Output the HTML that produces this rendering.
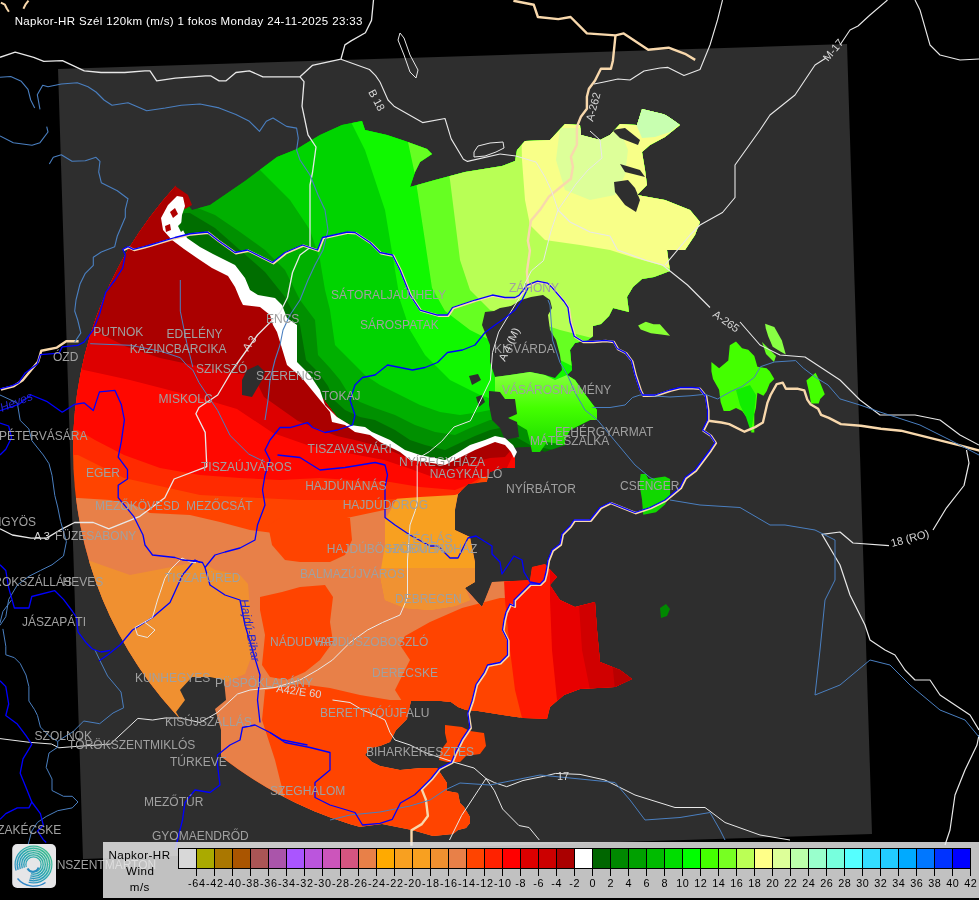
<!DOCTYPE html>
<html><head><meta charset="utf-8"><style>
html,body{margin:0;padding:0;background:#000;width:979px;height:900px;overflow:hidden}
svg{display:block}
text{font-family:"Liberation Sans",Arial,sans-serif}
</style></head><body>
<svg width="979" height="900" viewBox="0 0 979 900">
<rect width="979" height="900" fill="#000"/>
<polygon points="58,69 847,44 872,834 83,859" fill="#2e2e2e" />
<defs><clipPath id="cc"><circle cx="464" cy="450" r="391"/></clipPath><clipPath id="cr"><polygon points="177,190 175,205 172,222 180,240 198,253 215,262 232,270 240,282 243,296 258,300 272,306 278,320 285,335 290,350 292,363 305,378 318,392 328,405 338,418 352,426 370,432 388,441 405,452 425,459 445,462 463,452 475,447 495,439 505,441 512,448 515,458 515,468 503,468 490,472 487,482 468,484 458,494 455,510 455,530 470,537 475,562 475,582 465,588 482,607 492,582 530,580 532,567 545,564 557,577 550,585 560,600 575,607 595,602 597,630 600,662 620,670 632,679 615,687 580,689 564,695 550,707 547,719 523,718 503,715 478,711 466,710 458,707 451,702 441,701 411,701 409,709 407,719 396,730 390,742 380,746 370,748 365,755 372,762 380,766 400,770 421,768 437,768 441,774 447,783 447,791 458,793 460,803 464,807 470,817 470,823 466,828 458,830 453,834 433,836 412,830 402,828 382,824 351,828 341,824 321,818 300,812 280,804 200,900 -50,900 -50,100 150,100"/></clipPath><clipPath id="co2"><polygon points="398,497 430,490 455,492 458,494 455,510 455,530 470,537 475,562 475,582 465,588 470,600 455,606 430,610 405,608 385,600 380,575 385,545 385,520"/></clipPath><clipPath id="cg"><polygon points="177,190 175,205 172,222 180,240 198,253 215,262 232,270 240,282 243,296 258,300 272,306 278,320 285,335 290,350 292,363 305,378 318,392 328,405 338,418 352,426 370,432 388,441 405,452 425,459 445,462 463,452 475,447 495,439 505,441 512,448 530,447 545,452 565,445 565,440 570,430 580,425 590,420 597,420 597,410 587,397 575,380 567,375 572,370 570,350 575,343 588,340 593,336 593,326 601,324 609,316 613,308 629,312 627,297 633,287 642,279 654,277 670,271 667,250 685,250 695,235 700,222 690,210 665,200 637,195 647,185 645,170 642,152 650,145 665,137 680,125 667,115 642,109 637,125 620,124 610,135 600,140 581,135 580,125 565,124 550,140 525,141 517,150 515,161 502,166 465,172 435,180 410,187 415,172 420,162 432,154 427,149 405,141 387,135 365,130 362,121 342,125 320,135 305,144 297,149 277,157 245,181 210,205 192,210"/></clipPath></defs>
<g clip-path="url(#cc)">
<g clip-path="url(#cr)">
<polygon points="177,190 175,205 172,222 180,240 198,253 215,262 232,270 240,282 243,296 258,300 272,306 278,320 285,335 290,350 292,363 305,378 318,392 328,405 338,418 352,426 370,432 388,441 405,452 425,459 445,462 463,452 475,447 495,439 505,441 512,448 515,458 515,468 503,468 490,472 487,482 468,484 458,494 455,510 455,530 470,537 475,562 475,582 465,588 482,607 492,582 530,580 532,567 545,564 557,577 550,585 560,600 575,607 595,602 597,630 600,662 620,670 632,679 615,687 580,689 564,695 550,707 547,719 523,718 503,715 478,711 466,710 458,707 451,702 441,701 411,701 409,709 407,719 396,730 390,742 380,746 370,748 365,755 372,762 380,766 400,770 421,768 437,768 441,774 447,783 447,791 458,793 460,803 464,807 470,817 470,823 466,828 458,830 453,834 433,836 412,830 402,828 382,824 351,828 341,824 321,818 300,812 280,804 200,900 -50,900 -50,100 150,100" fill="#ff4400" />
<polygon points="-50,498 78,498 110,500 134,505 150,513 190,515 220,522 250,530 304,537 342,519 389,509 400,495 430,490 460,490 520,600 520,900 -50,900" fill="#e88048" />
<polygon points="-50,561 90,561 130,575 177,566 201,561 215,570 240,575 248,584 250,608 252,655 245,674 224,683 215,702 200,740 -50,740" fill="#f09030" />
<polygon points="398,497 430,490 455,492 458,494 455,510 455,530 470,537 475,562 475,582 465,588 470,600 455,606 430,610 405,608 385,600 380,575 385,545 385,520" fill="#f8a020" />
<polygon points="370,568 480,568 480,640 370,640" fill="#f09232" clip-path="url(#co2)"/>
<polygon points="280,518 350,518 352,540 345,555 330,562 300,562 285,560 272,545 268,525" fill="#ff4400" />
<polygon points="260,597 282,592 300,587 325,585 333,597 330,622 333,642 320,660 305,672 287,680 270,677 262,665 265,635 260,610" fill="#ff4400" />
<polygon points="265,690 300,684 330,688 360,695 390,700 440,700 480,690 520,720 480,860 420,860 300,860 285,800 275,760 262,720" fill="#ff4400" />
<polygon points="405,636 430,622 462,608 500,598 640,598 640,730 420,730 395,690 410,660 400,645" fill="#ff4400" />
<polygon points="503,560 700,560 700,730 525,730 515,690 510,650 505,600" fill="#ff1800" />
<polygon points="550,560 700,560 700,730 560,730 556,690 552,650 550,600" fill="#e80000" />
<polygon points="578,590 700,590 700,730 600,730 590,690 582,650" fill="#d00000" />
<polygon points="612,600 700,600 700,730 620,730 615,690 612,660" fill="#b80000" />
<polygon points="177,190 175,205 172,222 180,240 198,253 215,262 232,270 240,282 243,296 258,300 272,306 278,320 285,335 290,350 292,363 305,378 318,392 328,405 338,418 352,426 370,432 388,441 405,452 425,459 445,462 463,452 475,447 495,439 505,441 512,448 520,440 470,490 455,495 420,497 380,500 300,500 200,495 124,478 78,455 -50,455 -50,100 150,100" fill="#ff2a00" />
<polygon points="177,190 175,205 172,222 180,240 198,253 215,262 232,270 240,282 243,296 258,300 272,306 278,320 285,335 290,350 292,363 305,378 318,392 328,405 338,418 352,426 370,432 388,441 405,452 425,459 445,462 463,452 475,447 495,439 505,441 512,448 520,440 515,468 503,468 490,472 470,484 455,490 420,487 390,482 350,480 320,478 280,480 240,478 200,475 160,468 124,455 95,440 78,430 -50,430 -50,100 150,100" fill="#ff0800" />
<polygon points="177,190 175,205 172,222 180,240 198,253 215,262 232,270 240,282 243,296 258,300 272,306 278,320 285,335 290,350 292,363 305,378 318,392 328,405 338,418 352,426 370,432 388,441 405,452 425,459 445,462 463,452 475,447 495,439 505,441 512,448 520,440 505,472 490,476 460,480 430,476 408,468 384,460 347,453 310,446 273,433 237,409 200,398 130,380 75,368 40,365 40,150 150,100" fill="#dd0000" />
<polygon points="177,190 175,205 172,222 180,240 198,253 215,262 232,270 240,282 243,296 258,300 272,306 278,320 285,335 290,350 292,363 305,378 318,392 328,405 338,418 352,426 370,432 388,441 405,452 425,459 445,462 463,452 475,447 495,439 505,441 512,448 520,440 505,457 490,458 470,463 450,470 430,466 408,458 384,448 359,441 337,436 318,429 298,421 281,409 264,397 258,385 250,375 225,372 193,365 160,358 127,347 93,330 40,330 100,150 150,100" fill="#aa0000" />
<polygon points="247,370 258,365 265,372 262,380 252,397 242,395 242,380" fill="#2e2e2e" />
</g>
<polygon points="445,725 462,727 470,731 484,733 486,746 480,754 466,756 460,762 447,762 439,760 441,750 447,742 445,733" fill="#ff4400" />
<g clip-path="url(#cg)">
<polygon points="177,190 175,205 172,222 180,240 198,253 215,262 232,270 240,282 243,296 258,300 272,306 278,320 285,335 290,350 292,363 305,378 318,392 328,405 338,418 352,426 370,432 388,441 405,452 425,459 445,462 463,452 475,447 495,439 505,441 512,448 530,447 545,452 565,445 565,440 570,430 580,425 590,420 597,420 597,410 587,397 575,380 567,375 572,370 570,350 575,343 588,340 593,336 593,326 601,324 609,316 613,308 629,312 627,297 633,287 642,279 654,277 670,271 667,250 685,250 695,235 700,222 690,210 665,200 637,195 647,185 645,170 642,152 650,145 665,137 680,125 667,115 642,109 637,125 620,124 610,135 600,140 581,135 580,125 565,124 550,140 525,141 517,150 515,161 502,166 465,172 435,180 410,187 415,172 420,162 432,154 427,149 405,141 387,135 365,130 362,121 342,125 320,135 305,144 297,149 277,157 245,181 210,205 192,210" fill="#006e00" />
<polygon points="120,213 190,213 215,228 240,250 265,272 285,297 300,325 306,360 318,372 328,386 334,400 345,410 360,417 375,420 395,430 410,440 425,445 445,450 462,442 475,436 490,430 500,428 530,445 600,460 800,500 800,-50 100,-50" fill="#009000" />
<polygon points="120,205 190,205 215,215 240,232 265,250 285,270 300,300 315,320 318,355 330,368 340,380 348,393 360,402 375,408 395,415 415,425 435,432 455,435 470,428 490,420 510,420 600,440 800,500 800,-50 100,-50" fill="#00b000" />
<polygon points="230,80 250,160 270,180 290,200 310,230 320,260 325,290 330,310 335,345 350,360 365,375 380,385 400,395 420,405 440,412 460,415 480,412 500,408 600,420 800,500 800,-50 100,-50" fill="#00d400" />
<polygon points="340,80 350,120 365,150 375,180 385,210 390,240 395,270 400,300 410,330 425,355 450,380 480,395 510,405 600,400 800,500 800,-50 100,-50" fill="#10f800" />
<polygon points="400,80 405,128 415,175 420,208 425,241 432,288 445,311 470,330 500,345 520,340 600,380 800,500 800,-50 100,-50" fill="#66ff22" />
<polygon points="440,80 440,120 445,150 450,180 455,220 460,260 470,290 490,310 530,320 560,330 600,340 700,340 800,500 800,-50 100,-50" fill="#b8ff55" />
<polygon points="520,80 522,160 525,200 530,225 545,240 580,245 610,250 635,258 660,265 690,275 720,260 800,500 800,-50 100,-50" fill="#f8ff88" />
<polygon points="560,128 600,128 622,135 628,150 625,175 615,195 590,200 565,190 556,160" fill="#ddff99" />
<polygon points="636,124 642,108 667,114 680,124 670,132 655,137 642,138" fill="#c8ffb0" />
<polygon points="612,130 625,128 640,140 638,145 620,138" fill="#2e2e2e" />
<polygon points="620,164 640,170 645,177 625,172" fill="#2e2e2e" />
<polygon points="614,182 628,180 635,188 640,200 636,212 625,205 615,192" fill="#2e2e2e" />
<polygon points="485,312 494,311 500,308 511,306 521,300 531,297 543,295 550,300 552,308 548,315 550,330 556,340 560,355 562,370 555,378 545,375 530,372 510,375 495,377 490,362 490,345 482,325" fill="#2e2e2e" />
</g>
<defs><linearGradient id="vg" x1="0" y1="0" x2="0" y2="1"><stop offset="0" stop-color="#88ff40"/><stop offset="0.45" stop-color="#44ff00"/><stop offset="1" stop-color="#18d800"/></linearGradient></defs>
<polygon points="495,377 510,375 530,372 545,375 555,380 567,375 575,380 587,397 597,410 597,420 590,420 580,425 570,430 565,440 565,445 547,442 540,452 532,452 530,442 527,430 510,420 495,400" fill="url(#vg)" />
<polygon points="489,391 500,392 505,399 515,399 517,414 508,418 517,422 519,437 505,440 500,428 492,420 489,405" fill="#2e2e2e" />
<polygon points="469,376 478,374 481,380 472,385" fill="#2e2e2e" />
<polygon points="476,397 482,395 485,402 479,407" fill="#2e2e2e" />
<polygon points="175,186 188,195 192,205 185,209 176,203" fill="#b00000" />
<polygon points="183,197 185,206 182,215 181,226 187,238 200,247 213,254 235,265 245,278 250,290 258,295 275,298 282,305 287,318 297,325 297,362 310,375 320,390 325,405 337,417 350,425 365,427 372,432 390,440 405,450 420,455 445,460 462,450 470,445 485,440 495,436 505,438 513,445 517,452 514,458 511,452 505,445 495,442 475,450 465,455 445,465 425,462 410,460 400,452 380,442 370,435 355,432 345,425 332,422 330,412 320,400 302,378 287,365 277,332 273,325 270,315 260,307 243,305 240,299 235,287 228,276 212,268 197,258 184,249 172,240 163,230 161,218 168,205 177,196" fill="#fff" />
<polygon points="170,212 175,208 178,214 173,218" fill="#b00000" />
<polygon points="165,226 170,224 171,230 166,232" fill="#b00000" />
<polygon points="178,226 182,222 186,228 181,232" fill="#007000" />
</g>
<polygon points="180,690 192,677 210,677 224,680 226,700 215,709 221,730 221,757 205,752 192,738 182,722 176,712 185,700" fill="#2e2e2e" />
<polygon points="711.4,362.1 719.1,368.2 728.3,360.6 729.8,345.2 736,341.4 742.1,348.3 748.2,349.8 754.3,356 757.4,366.7 766.6,368.2 769.7,371.3 774.3,378.9 769.7,383.5 766.6,391.2 763.5,395.8 757.4,392.7 755.9,408.1 754.3,414.2 754.3,432.6 751.3,432.6 750.5,417.2 746.7,417.2 742.1,411.1 736,408.1 729.8,411.1 723.7,411.1 720.6,401.9 719.1,389.7 713,378.9 711.4,371.3" fill="#44ff00" />
<polygon points="736,390 750,385 756,395 754,414 751,432 746,417 740,405" fill="#11ee00" />
<polygon points="765.1,323.8 774.3,326.9 781.9,340.6 785.8,354.4 780.4,351.4 772.7,346.8 768.1,336 765.8,328.4" fill="#88ff44" />
<polygon points="762,342 768,348 776,356 774,362 766,354" fill="#66ff22" />
<polygon points="806.4,380.5 815.6,372.8 818.7,378.9 824.8,394.3 820.2,398.9 818.7,403.5 811,403.5 809.5,394.3" fill="#44ff00" />
<polygon points="638.1,325.6 645.8,321.7 653.5,324.3 659.9,324.3 670.1,335.8 661.2,334.5 650.9,333.2 640.7,329.4" fill="#88ff33" />
<polygon points="640.7,473.9 645.8,473.9 648.4,479 665,476.5 670.1,479 670.1,494.4 665,504.6 656,512.3 643.2,514.8 642,499.5 639.4,484.1" fill="#11d800" />
<polygon points="660,608 666,604 670,609 667,616 661,618" fill="#008800" />
<polyline points="0,2 4,4 6,8 8,11" fill="none" stroke="#f8d8ac" stroke-width="2.0" stroke-linejoin="round" transform="translate(0.9 0.7)"/>
<polyline points="27.6,0 24.5,4 22.5,8" fill="none" stroke="#f8d8ac" stroke-width="2.0" stroke-linejoin="round" transform="translate(0.9 0.7)"/>
<polyline points="512.5,0 532.9,4.1 537,16.3 557.4,18.4 569.7,16.3 586,32.7 614.6,34.7 622.8,32.7 647.3,49 667.7,47 684.1,53.1 694.3,59.2" fill="none" stroke="#f8d8ac" stroke-width="2.4" stroke-linejoin="round" transform="translate(0.9 0.7)"/>
<polyline points="614.6,34.7 612,60 610,68 600,68 598,72 594,80 588,88 586,96 586,108 580,116 576,126 576,144 570,156 572,166 570,178 560,186 548,196 540,208 530,220 527,240 529,250 526,271 527.2,285.2" fill="none" stroke="#f8d8ac" stroke-width="2.4" stroke-linejoin="round" transform="translate(0.9 0.7)"/>
<polyline points="0,388.8 12.4,385.7 21.8,379.5 37.3,360.8 40.4,350 56,346.9 65.3,340.6 77.7,340.6" fill="none" stroke="#f8d8ac" stroke-width="2.4" stroke-linejoin="round" transform="translate(0.9 0.7)"/>
<polyline points="122.7,249.3 128,246.7 133.3,249.3 144,246.7 150,245 175,237.5 190,233.75 207.5,232 217.5,240 235,252.5 247.5,250 272.5,262.5 285,252.5 302.5,245 317.5,250 322.5,237.5 347.5,232 355,232.5 370,242.5 380,252.5 392.5,255 400,270 410,295 420,310 437.5,315 447.5,315 452.5,307.5 475,300 492.5,295 505,297.5 515,297.5 519,295.4 527.2,285.2 537.4,281.1 547.6,283.1 551.7,287.2" fill="none" stroke="#f8d8ac" stroke-width="2.4" stroke-linejoin="round" transform="translate(0.9 0.7)"/>
<polyline points="551.7,287.2 564,301.5 568,307.6 570,322 574.2,336.2 582.4,341.3 592.6,341.3 604.8,340.3 613,341.3 617.1,348.5 625.3,352.6 631.4,360.7 635,375 640,390 642.5,395 655,395 670,390 680,387.5 692.5,387.5 699,388 705.3,395.8 707.5,410 707.5,420" fill="none" stroke="#f8d8ac" stroke-width="2.4" stroke-linejoin="round" transform="translate(0.9 0.7)"/>
<polyline points="707.5,420 720.6,421.8 728.3,423.4 743.6,431 754.3,426.4 762,421.8 766.6,401.9 769.7,394.3 775.8,383.5 781.9,382 785,388.1 797.2,388.1 803.4,389.7 806.4,398.9 809.5,403.5 817.2,408.1 820.2,414.2 827.9,417.2 840,423.4 860,425 880,428 900,430 920,435 940,440 960,445 979,450" fill="none" stroke="#f8d8ac" stroke-width="2.4" stroke-linejoin="round" transform="translate(0.9 0.7)"/>
<polyline points="707.5,420 702.5,430 710,435 715,442.5 710,450 702.5,460 695,470 685,477.5 680,487.5 665,500 650,507.5 635,512.5 610,502.5 600,507.5 590,520 574,520 570,526 562,534 560,544 552,550 548,560 546,572 544,580 540,584 530,584 522,592 514,600 514,606 510,604 506,612 504,620 502.5,630 507.5,640 507.5,655 500,662.5 487.5,665 484.2,672.3 476,684.5 472,700.9 467.8,713.1 469.9,727.4 461.7,739.7 455.6,751.9 451.5,762.1 439.2,768.3 431.1,778.5 420.9,788.7 425,798.9 427,815.3 420.9,823.4 410.6,829.6 410.6,845" fill="none" stroke="#f8d8ac" stroke-width="2.4" stroke-linejoin="round" transform="translate(0.9 0.7)"/>
<polyline points="0,57.3 15.2,52.2 33.7,57.3 43.8,61.3 62.4,60.7 84.3,70.8 101.1,72.5 124.7,72.5 144.9,70.8 150,70.8 156.7,80.9 175.3,78.2 205.6,75.8 210.6,75.8 219.1,80.9 225.8,80.9 235.9,72.5 249.4,70.8 262.9,76.8 300,76.8 312.3,65.4 340.9,59.2 344.9,44.9 351.1,40.9 365.4,32.7 371.5,20.4 373.5,0" fill="none" stroke="#e8e8e8" stroke-width="1.3" stroke-linejoin="round"/>
<polyline points="300,76.8 304,81.7 302,106.2 308,134.8 316,147 312.5,172.5 310,185 310,247.5 300,255 292.5,272.5 287.5,297.5 280,312.5 257.5,335 245,352.5 232.5,370 217.7,395 199,407.5 195.9,413.7 205.2,432.4 206.8,466.6 174.1,479 164.8,497.7 139.9,516.3 108.8,528.8 93.3,522.5 74.6,522.5 62.2,528.8 46.6,538.1 31.1,538.1 12.4,535 0,528.8" fill="none" stroke="#e8e8e8" stroke-width="1.3" stroke-linejoin="round"/>
<polyline points="340.9,59.2 369.5,69.5 375.6,75.6 380,82 388,100 394,106.2 422.6,122.6 445,118.5 451.2,138.9 463.4,159.3 467.5,161.4 500,154" fill="none" stroke="#e8e8e8" stroke-width="1.1" stroke-linejoin="round"/>
<polyline points="558,210 570,222 590,232 610,236 617.5,250 645,260 662.5,265 687.5,285 710,307.5" fill="none" stroke="#e8e8e8" stroke-width="1.1" stroke-linejoin="round"/>
<polyline points="740,322 760,345 780,355 805,357 840,380 860,400 880,415 915,415 940,420 960,435 979,445" fill="none" stroke="#e8e8e8" stroke-width="1.1" stroke-linejoin="round"/>
<polyline points="398,40 400,33 404,38 410,55 418,70 416,78 410,72 404,55 398,40" fill="none" stroke="#e8e8e8" stroke-width="1.0" stroke-linejoin="round"/>
<polyline points="474,152 478,146 490,143 503,142 504,148 496,152 485,156 474,157 474,152" fill="none" stroke="#e8e8e8" stroke-width="1.0" stroke-linejoin="round"/>
<polyline points="887.5,0 870,15 858,26 850,30 840,45" fill="none" stroke="#e8e8e8" stroke-width="1.1" stroke-linejoin="round"/>
<polyline points="826,58 815,65 795,95 770,115 760,130 735,165 735,197.5 722.5,212.5 700,225 690,235 665,265" fill="none" stroke="#e8e8e8" stroke-width="1.1" stroke-linejoin="round"/>
<polyline points="915,0 920,10 930,45 940,55 960,60 979,59" fill="none" stroke="#e8e8e8" stroke-width="1.1" stroke-linejoin="round"/>
<polyline points="722.5,0 717.5,20 710,45 700,69.5 684,75.6 668,67.4 660,68 644,71 630,80 618,79 604,82 594,84" fill="none" stroke="#e8e8e8" stroke-width="1.1" stroke-linejoin="round"/>
<polyline points="590,131 600,140 602,158 588,170 576,184 558,210" fill="none" stroke="#e8e8e8" stroke-width="1.0" stroke-linejoin="round"/>
<polyline points="500,154 516,156 536,162 545,177 552,192 558,210 553,225 550.7,232 543.5,260.6 531.3,270.9 525.2,283 521,295.4 510.9,311.7 498.6,332.1 492.5,352.6 490.4,380 478.5,404.5 470.3,420.9 454,427 441.7,441.3 429.5,451.5 419.2,457.6 417.2,465.8 417.2,502.6 415.2,510.7 410,525 407.5,560 407.5,597.5 400,615 382.5,622.5 367.5,630 350,642.5 332.5,660 317.5,670 300,680 275,687.5 250,690 237.5,694 217.5,712.5 200,722.5 180,718 165,718 152.6,720 137.9,718.4 110.3,744.1 69.9,746.9 58.8,747.8 51.5,744 29.4,742.3 0,738.6" fill="none" stroke="#e8e8e8" stroke-width="1.0" stroke-linejoin="round"/>
<polyline points="332.5,700 350,702.5 362.5,710 375,715 385,720 390,732.5 395,740 410,745 425,752.5 440,757.5 455,762.5 474,768 486,778.5 494.4,782.6 506.7,786.7 523,780.5 543.4,776.4 555.7,773.4 580,774.4 605,780 635,795 675,807.5 705,807.5 725,822.5 760,835 790,840" fill="none" stroke="#e8e8e8" stroke-width="1.0" stroke-linejoin="round"/>
<polyline points="486,778.5 478,790.7 469.9,803 461.7,815.3 449.5,840" fill="none" stroke="#e8e8e8" stroke-width="1.0" stroke-linejoin="round"/>
<polyline points="486,778.5 494.4,790.7 502.6,809 518.9,825.5 529.1,827.5 539.3,840" fill="none" stroke="#e8e8e8" stroke-width="1.0" stroke-linejoin="round"/>
<polyline points="966.5,450 969,463 964,485.5 946.5,507.8 933,530" fill="none" stroke="#e8e8e8" stroke-width="1.2" stroke-linejoin="round"/>
<polyline points="889,545.6 853,543 840,532 822,534.4 830,548 840,565 850,595 865,625 870,640 885,650 895,655 905,670 915,680 930,680 940,695 955,705 970,715 979,730" fill="none" stroke="#e8e8e8" stroke-width="1.2" stroke-linejoin="round"/>
<polyline points="979,735 977,745 965,770 955,795 950,830 945,845" fill="none" stroke="#e8e8e8" stroke-width="1.2" stroke-linejoin="round"/>
<polyline points="0,77.3 10.7,76.5 21.3,81.3 28,89.3 30.7,100 34.7,108" fill="none" stroke="#4a7fc0" stroke-width="1.1" stroke-linejoin="round"/>
<polyline points="40,109.3 37.3,94.7 42.7,85.3 48,86.7 61.3,84 77.3,82.7 88,86.7 96,92 104,100 112,105.3 128,102.7 146.7,110.7 165.3,108 181.3,105.3 200,104 219.1,107.9 235.9,114.6 249.4,121.3 259.5,131.4 266.3,121.3 273,118 286.5,126.4 296.6,128.1 298.3,138.2 296.6,150 300,160 310,175 318,195 325,210 328,230 323,250 315,265 308,280 300,300 290,315 283,330 280,345 275,360 270,380 268,400 265,420" fill="none" stroke="#4a7fc0" stroke-width="1.1" stroke-linejoin="round"/>
<polyline points="0,136 13.3,142.7 32,145.3 40,142.7 48,132 46.7,126.7" fill="none" stroke="#4a7fc0" stroke-width="1.1" stroke-linejoin="round"/>
<polyline points="49.3,164 53.3,157.3 61.3,154.7 72,161.3 85.3,160.8 96,157.3 100,161.3 98.7,172 101.3,182.7 117.3,190.7 128,198.7 125.3,209.3 125.3,217.3 117.3,236 114.7,246.7 101.3,252 93.3,257.3 93.3,265.3 85.3,273.3 80,284 76,300 74.7,311 77.7,320 80.8,332.9 74.6,342.2" fill="none" stroke="#4a7fc0" stroke-width="1.1" stroke-linejoin="round"/>
<polyline points="90.2,343.7 130.6,345.3 161.7,351.5 180.3,357.7 186.6,365 192.8,370 199,382.6 217.7,410.6 230.1,435.5 248.8,454.1 265,462" fill="none" stroke="#4a7fc0" stroke-width="1.0" stroke-linejoin="round"/>
<polyline points="180.3,280 180.3,311.1 186.6,342.2 192.8,367.1" fill="none" stroke="#4a7fc0" stroke-width="1.0" stroke-linejoin="round"/>
<polyline points="0,395 17.3,403 20.2,420.4 28.9,429 31.8,440.6 43.3,455 49,463.7 52,475.3 54.8,495.5 57.7,507 60.6,521.5 66.4,541.7 63.5,556 52,564.8 40.4,570.5 28.9,576.3 17.3,585 8.7,599.4 5.8,616.7 0,625.4" fill="none" stroke="#4a7fc0" stroke-width="1.0" stroke-linejoin="round"/>
<polyline points="11.5,600 2.9,611.5 0,623" fill="none" stroke="#4a7fc0" stroke-width="1.0" stroke-linejoin="round"/>
<polyline points="2.9,628.9 5.8,646.2 5.8,654.8 14.4,657.7 20.2,663.5 26,675 28.9,686.6 28.9,701 34.6,709.7 37.5,715.5 40.4,727 49,735.7 57.7,741.5 57.7,747.2 49,753 46.2,767.4 52,779 52,790.5 63.5,796.3 72.2,796.3 78,802 72.2,807.9 57.7,810.7 46.2,816.5 37.5,822.3 31.8,831 28,845" fill="none" stroke="#4a7fc0" stroke-width="1.0" stroke-linejoin="round"/>
<polyline points="57.7,741.5 60,739.7 73,731.7 83.7,721 99.7,723.7 113,713 123.6,707.8 121,692 107.6,676 99.7,660 95,650" fill="none" stroke="#4a7fc0" stroke-width="1.0" stroke-linejoin="round"/>
<polyline points="200,562.5 195,560 182.5,575 170,602.5 152.5,617.5 132.5,630 120,645 107.5,655 99,661" fill="none" stroke="#0000ff" stroke-width="1.3" stroke-linejoin="round"/>
<polyline points="196,562.6 191.3,562.6 182,558 178.9,561 171.1,568.9 164.9,578.2 160.2,592.2 157.5,600 152.5,617.5 135,627.5 137.5,635 147.5,637.5 155,630 145,622.5" fill="none" stroke="#e8e8e8" stroke-width="1.0" stroke-linejoin="round"/>
<polyline points="330,820 350,815 380,812 410,806 430,800 445,790 460,783 490,785 540,775 615,782.5 630,800 645,820 680,817.5 710,812.5 720,830 725,840" fill="none" stroke="#4a7fc0" stroke-width="1.0" stroke-linejoin="round"/>
<polyline points="670,500 700,505 740,507.5 770,525 785,525 815,530 835,540 835,580 825,600 820,650 815,695 840,685 870,660 890,665 910,685 940,710 965,720 979,737" fill="none" stroke="#4a7fc0" stroke-width="1.0" stroke-linejoin="round"/>
<polyline points="548,300 550,305 552.5,340 560,362.5 567.5,375 575,392.5 585,410 597.5,420 610,435 622.5,450 635,465 650,477.5 655,480" fill="none" stroke="#4a7fc0" stroke-width="1.0" stroke-linejoin="round"/>
<polyline points="592.5,407.5 610,407.5 625,405 632.5,397.5 640,395" fill="none" stroke="#4a7fc0" stroke-width="1.0" stroke-linejoin="round"/>
<polyline points="640,395 655,396 670,397 690,395.8 705,394.3 717.6,398.9 731.4,391.2 742,386.6 754.3,377.4 760.5,366.7 774.3,362 795.7,360.6 803.4,368.2 815.6,377.4 828,385 840,398.9 860,405 880,412 920,425 950,440 979,455" fill="none" stroke="#4a7fc0" stroke-width="1.0" stroke-linejoin="round"/>
<polyline points="0,388.8 12.4,385.7 18.7,382.6 24.9,373.3 37.3,364 40.4,354.6 59.1,353.1 62.2,346.9 77.7,345.3 84,342.2 93.3,329.8 99.5,314.2 105.7,292.4 115,280 122.7,268 125.3,254.7 122.7,249.3 128,246.7 133.3,249.3 144,246.7 150,245 175,237.5 190,233.75 207.5,232 217.5,240 235,252.5 247.5,250 272.5,262.5 285,252.5 302.5,245 317.5,250 322.5,237.5 347.5,232 355,232.5 370,242.5 380,252.5 392.5,255 400,270 410,295 420,310 437.5,315 447.5,315 452.5,307.5 475,300 492.5,295 505,297.5 515,297.5 519,295.4 527.2,285.2 537.4,281.1 547.6,283.1 551.7,287.2" fill="none" stroke="#0000ff" stroke-width="1.3" stroke-linejoin="round"/>
<polyline points="551.7,287.2 564,301.5 568,307.6 570,322 574.2,336.2 582.4,341.3 592.6,341.3 604.8,340.3 613,341.3 617.1,348.5 625.3,352.6 631.4,360.7 635,375 640,390 642.5,395 655,395 670,390 680,387.5 692.5,387.5 699,388 705.3,395.8 707.5,410 707.5,420 707.5,420 702.5,430 710,435 715,442.5 710,450 702.5,460 695,470 685,477.5 680,487.5 665,500 650,507.5 635,512.5 610,502.5 600,507.5 590,520 574,520 570,526 562,534 560,544 552,550 548,560 546,572 544,580 540,584 530,584 522,592 514,600 514,606 510,604 506,612 504,620 502.5,630 507.5,640 507.5,655 500,662.5 487.5,665 484.2,672.3 476,684.5 472,700.9 467.8,713.1 469.9,727.4 461.7,739.7 455.6,751.9 451.5,762.1 439.2,768.3 431.1,778.5 420.9,788.7 420.9,788.7 414.7,794.8 400.4,803 396.3,811.2 392.3,819.3 380,823.4 362.5,825 355,812.5 330,805 315,797.5 315,782.5 330,770 330,752.5 310,747.5 285,742.5 270,732.5 255,725 242.5,727.5 240,740 230,745 217.5,755 217.5,765 220,785 210,792.5 195,790 185,802.5 182.5,820 180,830 175,850" fill="none" stroke="#0000ff" stroke-width="1.3" stroke-linejoin="round"/>
<polyline points="260,722.5 257.5,700 260,675 252.5,650 245,625 240,600 225,595 210,585 205,567.5 202.5,562.5 195,561 182.5,560 175,557.5 152.5,555 145,545 143,535 133.7,516.3 118.2,497.7 118.2,485.2 127.5,479 127.5,469.7 118.2,457.2 121.3,441.7 124.4,419.9 121.3,404.4 115,390.4 99.5,391.9 93.3,410.6 84,402.8 74.6,404.4 62.2,412.2 46.6,401.3 31.1,395 18.7,404.4 0,410.6" fill="none" stroke="#0000ff" stroke-width="1.3" stroke-linejoin="round"/>
<polyline points="495,325 485,332.5 475,345 462.5,350 447.5,352.5 437.5,362.5 425,367.5 412.5,370 400,367.5 387.5,365 375,375 362.5,377.5 355,385 350,400 355,415 352.5,425 337.5,430 325,432.5 312.5,427.5 307.5,422.5 290,427.5 280,427.5 270,440 265,450 270,460 265,475 262.5,490 265,505 257.5,525 255,540 240,548 225,552 215,555 205,567.5" fill="none" stroke="#0000ff" stroke-width="1.3" stroke-linejoin="round"/>
<polyline points="495,325 505,318 515,310 522,300 528,288" fill="none" stroke="#0000ff" stroke-width="1.3" stroke-linejoin="round"/>
<polyline points="277.5,455 300,457.5 320,470 345,467.5 375,462.5 385,465 387.5,475 385,487.5 385,517.5 395,525 410,535 430,546 438,546 450,558 458,558 468,538 476,536 492,546 492,554 500,562 502,574 510,562 514,556 522,560 524,572 530,582 540,584" fill="none" stroke="#0000ff" stroke-width="1.3" stroke-linejoin="round"/>
<polyline points="0,423 8.7,426 11.5,437.7 5.8,449.3 0,455" fill="none" stroke="#0000ff" stroke-width="1.3" stroke-linejoin="round"/>
<polyline points="0,564.8 5.8,570.5 8.7,587.9 14.4,608 28.9,608 31.8,596.5 54.8,590.7 63.5,599.4 72.2,611 76.5,617.3 78,631.8 86.6,643.3 92.4,649 101,652 110,650.5" fill="none" stroke="#0000ff" stroke-width="1.3" stroke-linejoin="round"/>
<polyline points="0,680.8 5.8,686.6 8.7,704 5.8,715.5 17.3,724.1 26,735.7 31.8,744.3 23,758.8 20.2,773.2 26,787.6 31.8,802 28.9,807.9 17.3,807.9 5.8,813.6 0,819.4" fill="none" stroke="#0000ff" stroke-width="1.3" stroke-linejoin="round"/>
<polyline points="31.8,802 40.4,813.6 43.3,825.2 37.5,831 43.3,839.6 46.2,842.5" fill="none" stroke="#0000ff" stroke-width="1.3" stroke-linejoin="round"/>
<polyline points="270,732.5 282.5,740 307.5,745" fill="none" stroke="#0000ff" stroke-width="1.3" stroke-linejoin="round"/>
<g font-size="12" fill="#a0a0a0">
<text x="93.3" y="336">PUTNOK</text>
<text x="166.6" y="337.8">EDELÉNY</text>
<text x="129.8" y="353.3">KAZINCBARCIKA</text>
<text x="196" y="373">SZIKSZÓ</text>
<text x="158.6" y="402.8">MISKOLC</text>
<text x="-1" y="440">PÉTERVÁSÁRA</text>
<text x="86" y="477">EGER</text>
<text x="95" y="509.5">MEZŐKÖVESD</text>
<text x="186" y="509.5">MEZŐCSÁT</text>
<text x="201" y="471">TISZAÚJVÁROS</text>
<text x="-34" y="526">GYÖNGYÖS</text>
<text x="55" y="540">FÜZESABONY</text>
<text x="53" y="361">ÓZD</text>
<text x="331" y="299">SÁTORALJAÚJHELY</text>
<text x="360" y="329">SÁROSPATAK</text>
<text x="266" y="322.5">ENCS</text>
<text x="256" y="380">SZERENCS</text>
<text x="322" y="400">TOKAJ</text>
<text x="307.6" y="452.5">TISZAVASVÁRI</text>
<text x="399" y="465.5">NYÍREGYHÁZA</text>
<text x="429.7" y="477.8">NAGYKÁLLÓ</text>
<text x="305.2" y="490">HAJDÚNÁNÁS</text>
<text x="342.7" y="508.9">HAJDÚDOROG</text>
<text x="509" y="292">ZÁHONY</text>
<text x="494" y="352.5">KISVÁRDA</text>
<text x="502" y="394">VÁSÁROSNAMÉNY</text>
<text x="555" y="436">FEHÉRGYARMAT</text>
<text x="530" y="445">MÁTÉSZALKA</text>
<text x="506" y="492.5">NYÍRBÁTOR</text>
<text x="620" y="490">CSENGER</text>
<text x="-44" y="586">JÁSZÁROKSZÁLLÁS</text>
<text x="62.5" y="586">HEVES</text>
<text x="22" y="626">JÁSZAPÁTI</text>
<text x="165" y="582">TISZAFÜRED</text>
<text x="135" y="682">KUNHEGYES</text>
<text x="165" y="726">KISÚJSZÁLLÁS</text>
<text x="34.6" y="740">SZOLNOK</text>
<text x="68" y="749">TÖRÖKSZENTMIKLÓS</text>
<text x="170" y="766">TÚRKEVE</text>
<text x="144" y="806">MEZŐTÚR</text>
<text x="152" y="840">GYOMAENDRŐD</text>
<text x="40" y="869">KUNSZENTMÁRTON</text>
<text x="-21.5" y="834">TISZAKÉCSKE</text>
<text x="300" y="578">BALMAZÚJVÁROS</text>
<text x="326.8" y="552.5">HAJDÚBÖSZÖRMÉNY</text>
<text x="388" y="552.5">HAJDÚHADHÁZ</text>
<text x="405.2" y="543.2">TÉGLÁS</text>
<text x="395" y="603">DEBRECEN</text>
<text x="270" y="646">NÁDUDVAR</text>
<text x="315" y="646">HAJDÚSZOBOSZLÓ</text>
<text x="215" y="687">PÜSPÖKLADÁNY</text>
<text x="372" y="677">DERECSKE</text>
<text x="320" y="717">BERETTYÓÚJFALU</text>
<text x="366" y="756">BIHARKERESZTES</text>
<text x="270" y="795">SZEGHALOM</text>
</g>
<text x="240" y="600" transform="rotate(79 240 600)" font-size="12" font-style="italic" fill="#2828d0">Hajdú-Bihar</text>
<text x="2" y="412" transform="rotate(-22 2 412)" font-size="12" font-style="italic" fill="#2828d0">Heves</text>
<g font-size="11" fill="#d8d8d8">
<text x="368" y="92" transform="rotate(62 368 92)">B 18</text>
<text x="593" y="122" transform="rotate(-75 593 122)">A-262</text>
<text x="828" y="62" transform="rotate(-50 828 62)">M-17</text>
<text x="712" y="316" transform="rotate(35 712 316)">A-265</text>
<text x="892" y="547" transform="rotate(-15 892 547)">18 (RO)</text>
<text x="557" y="780" transform="rotate(0 557 780)">17</text>
<text x="505" y="362" transform="rotate(-65 505 362)">A 4 (M)</text>
<text x="248" y="352" transform="rotate(-55 248 352)">A 3</text>
<text x="276" y="692" transform="rotate(8 276 692)">A42/E 60</text>
<text x="34" y="540" transform="rotate(0 34 540)">A 3</text>
</g>
<text x="14.7" y="25" fill="#fff" font-size="11.5" letter-spacing="0.35">Napkor-HR Szél 120km (m/s) 1 fokos Monday 24-11-2025 23:33</text>
<defs><linearGradient id="lg" gradientUnits="userSpaceOnUse" x1="-17.5" y1="17.5" x2="14.5" y2="-16.5"><stop offset="0" stop-color="#2a7fc8"/><stop offset="0.5" stop-color="#2aa6b4"/><stop offset="1" stop-color="#3cc088"/></linearGradient></defs>
<rect x="12.2" y="844" width="43.8" height="44" rx="5" fill="#e6e6e8"/>
<g transform="translate(33.5 864.5)" >
<circle r="13" fill="none" stroke="url(#lg)" stroke-width="12" stroke-dasharray="69.2 12.5" stroke-dashoffset="-36.3"/>
<circle r="8.6" fill="none" stroke="#e6e6e8" stroke-width="0.8"/>
<circle r="10.8" fill="none" stroke="#e6e6e8" stroke-width="0.8"/>
<circle r="13" fill="none" stroke="#e6e6e8" stroke-width="0.8"/>
<circle r="15.2" fill="none" stroke="#e6e6e8" stroke-width="0.8"/>
<circle r="17.4" fill="none" stroke="#e6e6e8" stroke-width="0.8"/>
<path d="M-16 14 A 21 21 0 0 0 12 18" fill="none" stroke="#2f86c8" stroke-width="1.4"/>
<path d="M5 3 A 6 6 0 0 1 -6 4" fill="none" stroke="#2a8cc0" stroke-width="2"/>
</g>
<g font-size="10.8" letter-spacing="0.7" fill="#000">
<rect x="103" y="842" width="876" height="56" fill="#ececec" fill-opacity="0.82"/>
<rect x="178" y="848" width="18" height="21" fill="#d8d8d8"/>
<rect x="196" y="848" width="18" height="21" fill="#aaaa00"/>
<rect x="214" y="848" width="18" height="21" fill="#aa7700"/>
<rect x="232" y="848" width="18" height="21" fill="#aa5500"/>
<rect x="250" y="848" width="18" height="21" fill="#aa5555"/>
<rect x="268" y="848" width="18" height="21" fill="#aa55aa"/>
<rect x="286" y="848" width="18" height="21" fill="#aa55ff"/>
<rect x="304" y="848" width="18" height="21" fill="#bb55dd"/>
<rect x="322" y="848" width="18" height="21" fill="#cc55bb"/>
<rect x="340" y="848" width="18" height="21" fill="#d55580"/>
<rect x="358" y="848" width="18" height="21" fill="#e88048"/>
<rect x="376" y="848" width="18" height="21" fill="#ffaa00"/>
<rect x="394" y="848" width="18" height="21" fill="#f8a020"/>
<rect x="412" y="848" width="18" height="21" fill="#f8a020"/>
<rect x="430" y="848" width="18" height="21" fill="#f09030"/>
<rect x="448" y="848" width="18" height="21" fill="#e88048"/>
<rect x="466" y="848" width="18" height="21" fill="#ff4400"/>
<rect x="484" y="848" width="18" height="21" fill="#ff2200"/>
<rect x="502" y="848" width="18" height="21" fill="#ff0000"/>
<rect x="520" y="848" width="18" height="21" fill="#dd0000"/>
<rect x="538" y="848" width="18" height="21" fill="#cc0000"/>
<rect x="556" y="848" width="18" height="21" fill="#aa0000"/>
<rect x="574" y="848" width="18" height="21" fill="#ffffff"/>
<rect x="592" y="848" width="18" height="21" fill="#006600"/>
<rect x="610" y="848" width="18" height="21" fill="#008800"/>
<rect x="628" y="848" width="18" height="21" fill="#00a000"/>
<rect x="646" y="848" width="18" height="21" fill="#00bb00"/>
<rect x="664" y="848" width="18" height="21" fill="#00dd00"/>
<rect x="682" y="848" width="18" height="21" fill="#00ff00"/>
<rect x="700" y="848" width="18" height="21" fill="#44ff00"/>
<rect x="718" y="848" width="18" height="21" fill="#77ff22"/>
<rect x="736" y="848" width="18" height="21" fill="#bbff55"/>
<rect x="754" y="848" width="18" height="21" fill="#ffff88"/>
<rect x="772" y="848" width="18" height="21" fill="#ddff99"/>
<rect x="790" y="848" width="18" height="21" fill="#bbffaa"/>
<rect x="808" y="848" width="18" height="21" fill="#99ffcc"/>
<rect x="826" y="848" width="18" height="21" fill="#77ffdd"/>
<rect x="844" y="848" width="18" height="21" fill="#55ffff"/>
<rect x="862" y="848" width="18" height="21" fill="#33ddff"/>
<rect x="880" y="848" width="18" height="21" fill="#22ccff"/>
<rect x="898" y="848" width="18" height="21" fill="#00aaff"/>
<rect x="916" y="848" width="18" height="21" fill="#0077ff"/>
<rect x="934" y="848" width="18" height="21" fill="#0033ff"/>
<rect x="952" y="848" width="18" height="21" fill="#0000ff"/>
<line x1="178.5" y1="848" x2="178.5" y2="869" stroke="#000" stroke-width="1"/>
<line x1="196.5" y1="848" x2="196.5" y2="876" stroke="#000" stroke-width="1"/>
<line x1="214.5" y1="848" x2="214.5" y2="876" stroke="#000" stroke-width="1"/>
<line x1="232.5" y1="848" x2="232.5" y2="876" stroke="#000" stroke-width="1"/>
<line x1="250.5" y1="848" x2="250.5" y2="876" stroke="#000" stroke-width="1"/>
<line x1="268.5" y1="848" x2="268.5" y2="876" stroke="#000" stroke-width="1"/>
<line x1="286.5" y1="848" x2="286.5" y2="876" stroke="#000" stroke-width="1"/>
<line x1="304.5" y1="848" x2="304.5" y2="876" stroke="#000" stroke-width="1"/>
<line x1="322.5" y1="848" x2="322.5" y2="876" stroke="#000" stroke-width="1"/>
<line x1="340.5" y1="848" x2="340.5" y2="876" stroke="#000" stroke-width="1"/>
<line x1="358.5" y1="848" x2="358.5" y2="876" stroke="#000" stroke-width="1"/>
<line x1="376.5" y1="848" x2="376.5" y2="876" stroke="#000" stroke-width="1"/>
<line x1="394.5" y1="848" x2="394.5" y2="876" stroke="#000" stroke-width="1"/>
<line x1="412.5" y1="848" x2="412.5" y2="876" stroke="#000" stroke-width="1"/>
<line x1="430.5" y1="848" x2="430.5" y2="876" stroke="#000" stroke-width="1"/>
<line x1="448.5" y1="848" x2="448.5" y2="876" stroke="#000" stroke-width="1"/>
<line x1="466.5" y1="848" x2="466.5" y2="876" stroke="#000" stroke-width="1"/>
<line x1="484.5" y1="848" x2="484.5" y2="876" stroke="#000" stroke-width="1"/>
<line x1="502.5" y1="848" x2="502.5" y2="876" stroke="#000" stroke-width="1"/>
<line x1="520.5" y1="848" x2="520.5" y2="876" stroke="#000" stroke-width="1"/>
<line x1="538.5" y1="848" x2="538.5" y2="876" stroke="#000" stroke-width="1"/>
<line x1="556.5" y1="848" x2="556.5" y2="876" stroke="#000" stroke-width="1"/>
<line x1="574.5" y1="848" x2="574.5" y2="876" stroke="#000" stroke-width="1"/>
<line x1="592.5" y1="848" x2="592.5" y2="876" stroke="#000" stroke-width="1"/>
<line x1="610.5" y1="848" x2="610.5" y2="876" stroke="#000" stroke-width="1"/>
<line x1="628.5" y1="848" x2="628.5" y2="876" stroke="#000" stroke-width="1"/>
<line x1="646.5" y1="848" x2="646.5" y2="876" stroke="#000" stroke-width="1"/>
<line x1="664.5" y1="848" x2="664.5" y2="876" stroke="#000" stroke-width="1"/>
<line x1="682.5" y1="848" x2="682.5" y2="876" stroke="#000" stroke-width="1"/>
<line x1="700.5" y1="848" x2="700.5" y2="876" stroke="#000" stroke-width="1"/>
<line x1="718.5" y1="848" x2="718.5" y2="876" stroke="#000" stroke-width="1"/>
<line x1="736.5" y1="848" x2="736.5" y2="876" stroke="#000" stroke-width="1"/>
<line x1="754.5" y1="848" x2="754.5" y2="876" stroke="#000" stroke-width="1"/>
<line x1="772.5" y1="848" x2="772.5" y2="876" stroke="#000" stroke-width="1"/>
<line x1="790.5" y1="848" x2="790.5" y2="876" stroke="#000" stroke-width="1"/>
<line x1="808.5" y1="848" x2="808.5" y2="876" stroke="#000" stroke-width="1"/>
<line x1="826.5" y1="848" x2="826.5" y2="876" stroke="#000" stroke-width="1"/>
<line x1="844.5" y1="848" x2="844.5" y2="876" stroke="#000" stroke-width="1"/>
<line x1="862.5" y1="848" x2="862.5" y2="876" stroke="#000" stroke-width="1"/>
<line x1="880.5" y1="848" x2="880.5" y2="876" stroke="#000" stroke-width="1"/>
<line x1="898.5" y1="848" x2="898.5" y2="876" stroke="#000" stroke-width="1"/>
<line x1="916.5" y1="848" x2="916.5" y2="876" stroke="#000" stroke-width="1"/>
<line x1="934.5" y1="848" x2="934.5" y2="876" stroke="#000" stroke-width="1"/>
<line x1="952.5" y1="848" x2="952.5" y2="876" stroke="#000" stroke-width="1"/>
<line x1="970.5" y1="848" x2="970.5" y2="876" stroke="#000" stroke-width="1"/>
<line x1="178" y1="848.5" x2="971" y2="848.5" stroke="#000" stroke-width="1"/>
<line x1="178" y1="868.5" x2="971" y2="868.5" stroke="#000" stroke-width="1"/>
<text x="196.85" y="887" text-anchor="middle">-64</text>
<text x="214.85" y="887" text-anchor="middle">-42</text>
<text x="232.85" y="887" text-anchor="middle">-40</text>
<text x="250.85" y="887" text-anchor="middle">-38</text>
<text x="268.85" y="887" text-anchor="middle">-36</text>
<text x="286.85" y="887" text-anchor="middle">-34</text>
<text x="304.85" y="887" text-anchor="middle">-32</text>
<text x="322.85" y="887" text-anchor="middle">-30</text>
<text x="340.85" y="887" text-anchor="middle">-28</text>
<text x="358.85" y="887" text-anchor="middle">-26</text>
<text x="376.85" y="887" text-anchor="middle">-24</text>
<text x="394.85" y="887" text-anchor="middle">-22</text>
<text x="412.85" y="887" text-anchor="middle">-20</text>
<text x="430.85" y="887" text-anchor="middle">-18</text>
<text x="448.85" y="887" text-anchor="middle">-16</text>
<text x="466.85" y="887" text-anchor="middle">-14</text>
<text x="484.85" y="887" text-anchor="middle">-12</text>
<text x="502.85" y="887" text-anchor="middle">-10</text>
<text x="520.85" y="887" text-anchor="middle">-8</text>
<text x="538.85" y="887" text-anchor="middle">-6</text>
<text x="556.85" y="887" text-anchor="middle">-4</text>
<text x="574.85" y="887" text-anchor="middle">-2</text>
<text x="592.85" y="887" text-anchor="middle">0</text>
<text x="610.85" y="887" text-anchor="middle">2</text>
<text x="628.85" y="887" text-anchor="middle">4</text>
<text x="646.85" y="887" text-anchor="middle">6</text>
<text x="664.85" y="887" text-anchor="middle">8</text>
<text x="682.85" y="887" text-anchor="middle">10</text>
<text x="700.85" y="887" text-anchor="middle">12</text>
<text x="718.85" y="887" text-anchor="middle">14</text>
<text x="736.85" y="887" text-anchor="middle">16</text>
<text x="754.85" y="887" text-anchor="middle">18</text>
<text x="772.85" y="887" text-anchor="middle">20</text>
<text x="790.85" y="887" text-anchor="middle">22</text>
<text x="808.85" y="887" text-anchor="middle">24</text>
<text x="826.85" y="887" text-anchor="middle">26</text>
<text x="844.85" y="887" text-anchor="middle">28</text>
<text x="862.85" y="887" text-anchor="middle">30</text>
<text x="880.85" y="887" text-anchor="middle">32</text>
<text x="898.85" y="887" text-anchor="middle">34</text>
<text x="916.85" y="887" text-anchor="middle">36</text>
<text x="934.85" y="887" text-anchor="middle">38</text>
<text x="952.85" y="887" text-anchor="middle">40</text>
<text x="970.85" y="887" text-anchor="middle">42</text>
<text x="139.5" y="858.6" text-anchor="middle" font-size="11.6" letter-spacing="0.45">Napkor-HR</text>
<text x="140.2" y="875" text-anchor="middle" font-size="11.6" letter-spacing="0.45">Wind</text>
<text x="139.8" y="890.8" text-anchor="middle" font-size="11.6" letter-spacing="0.45">m/s</text>
</g>
</svg>
</body></html>
